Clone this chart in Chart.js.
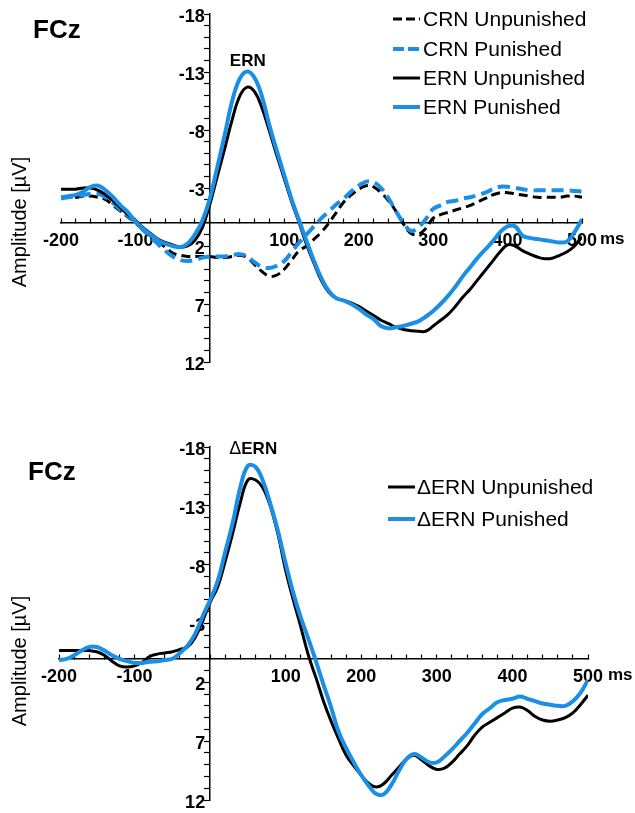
<!DOCTYPE html>
<html><head><meta charset="utf-8">
<script src="https://cdn.jsdelivr.net/npm/chart.js@4.4.1/dist/chart.umd.min.js"></script>
<style>
html,body{margin:0;padding:0;background:#fff;}
#wrap{position:relative;width:635px;height:813px;overflow:hidden;}
#c1{position:absolute;left:0;top:0;}
#c2{position:absolute;left:0;top:400px;}
</style></head><body>
<div id="wrap"><canvas id="c1" width="635" height="400"></canvas><canvas id="c2" width="635" height="413"></canvas></div>
<script>
// ---- data (ms, µV; negative plotted upward) ----
const timeMs = [-200,-190,-180,-170,-160,-150,-140,-130,-120,-110,-100,-90,-80,-70,-60,-50,-40,-30,-20,-10,0,10,20,30,40,50,60,70,80,90,100,110,120,130,140,150,160,170,180,190,200,210,220,230,240,250,260,270,280,290,300,310,320,330,340,350,360,370,380,390,400,410,420,430,440,450,460,470,480,490,500];

const crnUnpunished = [-2.2,-2.2,-2.2,-2.3,-2.3,-2.2,-2.0,-1.5,-1.0,-0.5,0.0,0.6,1.1,1.6,2.1,2.6,2.8,2.9,2.9,2.9,2.9,3.0,3.0,2.9,2.8,3.0,3.6,4.2,4.6,4.5,4.0,3.2,2.4,2.0,1.4,0.8,0.0,-0.9,-1.8,-2.4,-2.9,-3.2,-3.1,-2.6,-1.9,-1.0,0.1,0.9,1.0,0.5,-0.4,-0.7,-0.9,-1.1,-1.3,-1.5,-1.8,-2.1,-2.4,-2.6,-2.6,-2.5,-2.4,-2.3,-2.2,-2.2,-2.2,-2.2,-2.3,-2.3,-2.2];
const crnPunished = [-2.1,-2.2,-2.3,-2.4,-2.5,-2.5,-2.2,-1.7,-1.1,-0.6,-0.1,0.6,1.2,1.8,2.4,2.9,3.2,3.3,3.2,3.0,2.9,2.9,2.9,2.8,2.7,2.9,3.4,3.8,3.9,3.7,3.3,2.5,1.7,1.0,0.3,-0.4,-1.0,-1.6,-2.1,-2.7,-3.2,-3.55,-3.5,-3.0,-2.1,-1.0,0.0,0.7,0.4,-0.3,-1.2,-1.5,-1.8,-1.9,-2.1,-2.2,-2.4,-2.6,-2.9,-3.1,-3.1,-3.0,-2.9,-2.8,-2.8,-2.8,-2.8,-2.8,-2.8,-2.75,-2.7];
const ernUnpunished = [-2.9,-2.9,-2.9,-3.0,-3.0,-2.8,-2.4,-1.9,-1.3,-0.7,-0.2,0.4,0.9,1.4,1.7,1.9,2.1,2.0,1.5,0.4,-1.6,-4.0,-6.4,-8.9,-10.9,-11.7,-11.3,-9.9,-7.9,-5.8,-3.8,-1.8,0.0,1.9,3.5,5.0,6.0,6.5,6.7,6.9,7.2,7.6,8.0,8.4,8.7,9.0,9.2,9.3,9.35,9.35,8.9,8.4,7.9,7.2,6.4,5.7,4.9,4.1,3.3,2.5,1.9,2.0,2.4,2.7,2.95,3.1,3.05,2.8,2.5,2.0,1.2];
const ernPunished = [-2.2,-2.3,-2.4,-2.7,-3.1,-3.2,-2.8,-2.2,-1.5,-0.9,-0.1,0.5,1.0,1.5,1.8,2.0,2.1,1.8,1.0,-0.2,-2.1,-4.8,-7.6,-10.5,-12.4,-13.05,-12.5,-10.9,-8.4,-6.2,-4.1,-2.0,-0.2,1.6,3.3,4.8,5.9,6.5,6.7,7.0,7.4,7.9,8.3,8.9,9.1,9.0,8.9,8.7,8.5,8.1,7.6,7.0,6.3,5.5,4.6,3.8,3.0,2.3,1.6,0.8,0.3,0.3,1.1,1.3,1.4,1.5,1.6,1.7,1.6,0.8,-0.3];

const dErnUnpunished = [-0.7,-0.7,-0.7,-0.7,-0.7,-0.6,-0.3,0.2,0.6,0.7,0.6,0.3,-0.2,-0.4,-0.5,-0.6,-0.8,-1.0,-1.8,-3.2,-4.8,-6.1,-8.3,-10.7,-13.3,-15.2,-15.2,-14.5,-12.9,-10.5,-7.5,-5.0,-2.7,-0.3,1.6,3.6,5.3,6.8,8.2,9.1,9.9,10.6,10.9,10.6,9.9,9.2,8.5,8.2,8.6,9.1,9.4,9.3,8.8,8.1,7.4,6.5,5.8,5.4,5.0,4.6,4.2,4.1,4.4,4.9,5.2,5.3,5.2,5.0,4.6,3.9,3.1];
const dErnPunished = [0.1,0.0,-0.3,-0.7,-1.0,-1.0,-0.7,-0.3,0.0,0.2,0.35,0.35,0.25,0.2,0.1,0.0,-0.5,-1.1,-2.1,-3.6,-5.0,-6.6,-9.1,-11.6,-14.6,-16.4,-16.3,-15.1,-13.1,-10.8,-8.1,-5.6,-3.5,-1.7,0.2,2.2,4.1,6.2,7.6,8.8,9.9,10.8,11.5,11.5,10.7,9.5,8.5,8.1,8.4,8.8,8.8,8.3,7.7,7.0,6.3,5.5,4.7,4.2,3.7,3.5,3.4,3.2,3.4,3.6,3.8,3.9,4.0,4.0,3.6,2.9,1.8];

const xTickLabels = [-200,-100,100,200,300,400,500];
const yTickLabels = [-18,-13,-8,-3,2,7,12];

// ---- styling ----
const FONT = "'Liberation Sans', Arial, sans-serif";
const BLUE = '#1b8fe6';
const BLACK = '#000000';

function pts(vals){ return timeMs.map((t,i)=>({x:t,y:vals[i]})); }

function makeScales(){
  return {
    x: {
      type:'linear', min:-200, max:500, position:{y:0},
      ticks:{stepSize:20, autoSkip:false, maxRotation:0, padding:12, color:'#000',
        font:{family:FONT,size:18,weight:'bold'},
        callback:(v)=> xTickLabels.includes(Math.round(v)) ? String(Math.round(v)) : ''},
      grid:{drawOnChartArea:false, drawTicks:true, tickLength:-5, tickColor:'#000', tickWidth:1.2},
      border:{display:true, color:'#000', width:1.5}
    },
    y: {
      type:'linear', min:-18, max:12, reverse:true, position:{x:0},
      ticks:{stepSize:1, autoSkip:false, padding:0, color:'#000', labelOffset:3,
        font:{family:FONT,size:18,weight:'bold'},
        callback:(v)=> yTickLabels.includes(Math.round(v)) ? String(Math.round(v))+' ' : ''},
      grid:{drawOnChartArea:false, drawTicks:true, tickLength:5, tickColor:'#000', tickWidth:1.2},
      border:{display:true, color:'#000', width:1.5}
    }
  };
}

function textPlugin(opts){
  return {
    id:'texts',
    afterDraw(chart){
      const ctx = chart.ctx, xs = chart.scales.x, ys = chart.scales.y;
      ctx.save();
      ctx.fillStyle = '#000';
      // Title FCz
      ctx.font = "bold 26px " + FONT;
      ctx.textAlign='left'; ctx.textBaseline='alphabetic';
      ctx.fillText('FCz', opts.fczX, opts.fczY);
      // component label
      const px = xs.getPixelForValue(opts.labelMs), py = ys.getPixelForValue(opts.labelV);
      ctx.textBaseline='middle';
      if (opts.delta){
        ctx.font = "18px " + FONT;
        const dw = ctx.measureText('\u0394').width;
        ctx.font = "bold 17px " + FONT;
        const ew = ctx.measureText('ERN').width;
        const x0 = px - (dw+ew)/2;
        ctx.font = "18px " + FONT; ctx.textAlign='left';
        ctx.fillText('\u0394', x0, py);
        ctx.font = "bold 17px " + FONT;
        ctx.fillText('ERN', x0+dw, py);
      } else {
        ctx.font = "bold 17px " + FONT; ctx.textAlign='center';
        ctx.fillText('ERN', px, py);
      }
      // ms
      ctx.font = "bold 17px " + FONT; ctx.textAlign='left';
      ctx.fillText('ms', xs.right + opts.msDx, ys.getPixelForValue(0) + 17);
      // y title
      ctx.save();
      ctx.translate(20, opts.ampY);
      ctx.rotate(-Math.PI/2);
      ctx.font = "20px " + FONT; ctx.textAlign='center'; ctx.textBaseline='middle';
      ctx.fillText('Amplitude [\u00B5V]', 0, 0);
      ctx.restore();
      // legend
      ctx.font = "21px " + FONT; ctx.textAlign='left'; ctx.textBaseline='middle';
      chart.data.datasets.forEach((ds,i)=>{
        const y = opts.legY[i];
        ctx.save();
        ctx.strokeStyle = ds.borderColor;
        ctx.lineWidth = ds.borderWidth;
        ctx.setLineDash(ds.legendDash || []);
        ctx.beginPath(); ctx.moveTo(opts.legX0, y); ctx.lineTo(opts.legX1, y); ctx.stroke();
        ctx.restore();
        ctx.fillStyle = '#000';
        ctx.fillText(ds.label, opts.legTx, y+1);
      });
      ctx.restore();
    }
  };
}

const common = (pad) => ({
  responsive:false, animation:false, devicePixelRatio:1,
  layout:{padding:pad},
  plugins:{legend:{display:false}, tooltip:{enabled:false}},
  elements:{point:{radius:0}, line:{tension:0.4, borderCapStyle:'butt'}},
  scales: makeScales()
});

new Chart(document.getElementById('c1'), {
  type:'line',
  data:{datasets:[
    {label:'CRN Unpunished', data:pts(crnUnpunished), borderColor:BLACK, borderWidth:3, borderDash:[9,5], legendDash:[9,4], order:3},
    {label:'CRN Punished', data:pts(crnPunished), borderColor:BLUE, borderWidth:4, borderDash:[12,6], legendDash:[11,4], order:2},
    {label:'ERN Unpunished', data:pts(ernUnpunished), borderColor:BLACK, borderWidth:3, order:1},
    {label:'ERN Punished', data:pts(ernPunished), borderColor:BLUE, borderWidth:4, order:0}
  ]},
  options: common({left:61, right:53, top:14, bottom:38}),
  plugins:[textPlugin({fczX:33, fczY:38, labelMs:51, labelV:-13.9, delta:false, msDx:18, ampY:222,
    legX0:393, legX1:420, legTx:423, legY:[19,49,78,107]})]
});

new Chart(document.getElementById('c2'), {
  type:'line',
  data:{datasets:[
    {label:'\u0394ERN Unpunished', data:pts(dErnUnpunished), borderColor:BLACK, borderWidth:3, order:1},
    {label:'\u0394ERN Punished', data:pts(dErnPunished), borderColor:BLUE, borderWidth:4, order:0}
  ]},
  options: common({left:59, right:47, top:47, bottom:13}),
  plugins:[textPlugin({fczX:28, fczY:80, labelMs:57, labelV:-17.8, delta:true, msDx:20, ampY:261,
    legX0:388, legX1:415, legTx:417, legY:[87,119]})]
});
</script>
</body></html>
